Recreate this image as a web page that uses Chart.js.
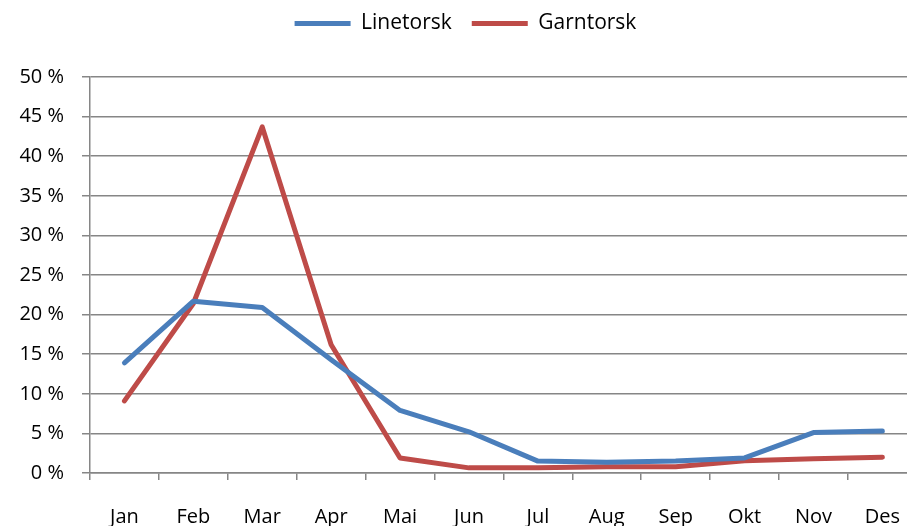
<!DOCTYPE html>
<html>
<head>
<meta charset="utf-8">
<script src="https://cdn.jsdelivr.net/npm/chart.js@4"></script>
<style>
  html, body { margin: 0; padding: 0; overflow: hidden; background: #fff; }
  #wrap { width: 925px; height: 526px; }
  #chart { width: 925px; height: 526px; }
</style>
</head>
<body>
<div id="wrap"><canvas id="chart" width="925" height="526"></canvas></div>
<script>
const months = ["Jan", "Feb", "Mar", "Apr", "Mai", "Jun", "Jul", "Aug", "Sep", "Okt", "Nov", "Des"];
const linetorsk = [13.9, 21.7, 20.9, 14.3, 7.9, 5.2, 1.5, 1.35, 1.5, 1.9, 5.1, 5.3];
const garntorsk = [9.1, 21.4, 43.7, 16.2, 1.9, 0.65, 0.65, 0.8, 0.8, 1.55, 1.8, 2.0];
const yTicks = [0, 5, 10, 15, 20, 25, 30, 35, 40, 45, 50];

const fontFamily = "'Open Sans', 'Liberation Sans', sans-serif";
const axisGray = "#868686";

new Chart(document.getElementById("chart"), {
  type: "line",
  data: {
    labels: months,
    datasets: [
      {
        label: "Linetorsk",
        data: linetorsk,
        borderColor: "#4a7ebb",
        backgroundColor: "#4a7ebb",
        borderWidth: 5,
        pointRadius: 0,
        borderCapStyle: "round",
        borderJoinStyle: "round",
      },
      {
        label: "Garntorsk",
        data: garntorsk,
        borderColor: "#be4b48",
        backgroundColor: "#be4b48",
        borderWidth: 5,
        pointRadius: 0,
        borderCapStyle: "round",
        borderJoinStyle: "round",
      },
    ],
  },
  options: {
    responsive: false,
    animation: false,
    layout: { padding: { top: -7, left: 6, right: 0 } },
    plugins: {
      tooltip: { enabled: false },
      // empty title used as a spacer between legend and plot
      title: {
        display: true,
        text: " ",
        weight: 500,
        font: { size: 10 },
        padding: { top: 0, bottom: 21 },
      },
      legend: {
        position: "top",
        labels: {
          color: "#000",
          font: { family: fontFamily, size: 21 },
          boxWidth: 56,
          boxHeight: 5,
          padding: 20,
          generateLabels(chart) {
            return Chart.defaults.plugins.legend.labels
              .generateLabels(chart)
              .map((l) => ({ ...l, lineWidth: 0, fillStyle: l.strokeStyle }));
          },
        },
      },
    },
    scales: {
      x: {
        offset: true,
        grid: {
          offset: true,
          drawOnChartArea: false,
          drawTicks: true,
          tickLength: 7,
          color: axisGray,
          lineWidth: 1.5,
        },
        border: { color: axisGray, width: 1.5 },
        ticks: {
          color: "#000",
          font: { family: fontFamily, size: 20 },
          padding: 25,
          maxRotation: 0,
          autoSkip: false,
        },
        afterFit(scale) {
          scale.height = 53;
        },
      },
      y: {
        min: 0,
        max: 50,
        afterBuildTicks(scale) {
          scale.ticks = yTicks.map((v) => ({ value: v }));
        },
        grid: {
          color: axisGray,
          lineWidth: 1.5,
          tickLength: 8,
        },
        border: { color: axisGray, width: 1.5 },
        ticks: {
          color: "#000",
          font: { family: fontFamily, size: 20 },
          padding: 18,
          callback: (v) => v + " %",
        },
        afterFit(scale) {
          scale.width = 84;
        },
      },
    },
  },
});
</script>
</body>
</html>
